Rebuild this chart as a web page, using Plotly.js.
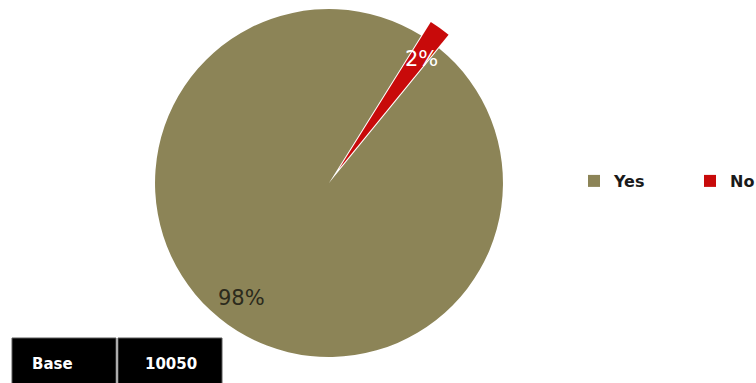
<!DOCTYPE html>
<html>
<head>
<meta charset="utf-8">
<script src="https://cdn.plot.ly/plotly-3.0.1.min.js"></script>
<style>
  html, body { margin: 0; padding: 0; overflow: hidden; background: #fff; }
  #chart { position: absolute; left: 0; top: -20px; width: 756px; height: 403px; }
</style>
</head>
<body>
<div id="chart"></div>
<script>
// ---- data ----
const labels = ['Yes', 'No'];
const values = [98, 2];
const sliceColors = ['#8c8457', '#c80a0a'];
const baseLabel = 'Base';
const baseValue = 10050;

// ---- layout helpers (pixel -> paper) ----
const W = 756, H = 403, T = 20; // T = hidden top strip
const px = x => x / W;
const py = y => 1 - (y + T) / H;

const total = values.reduce((a, b) => a + b, 0);
const pct = values.map(v => Math.round(v / total * 100) + '%');

const trace = {
  type: 'pie',
  labels: labels,
  values: values,
  sort: false,
  direction: 'clockwise',
  rotation: 39.2,
  pull: [0, 0.095],
  marker: { colors: sliceColors, line: { width: 0 } },
  textinfo: 'none',
  hoverinfo: 'label+percent',
  domain: { x: [px(138.5), px(519.5)], y: [py(373.5), py(-7.5)] }
};

const txt = (t, x, y, size, color, weight) => ({
  text: t, xref: 'paper', yref: 'paper', x: px(x), y: py(y),
  xanchor: 'center', yanchor: 'middle', showarrow: false,
  font: { family: 'DejaVu Sans', size: size, color: color, weight: weight || 'normal' }
});

const layout = {
  width: W, height: H,
  margin: { l: 0, r: 0, t: 0, b: 0, autoexpand: false },
  paper_bgcolor: '#ffffff',
  showlegend: true,
  legend: {
    orientation: 'h',
    x: px(574), xanchor: 'left',
    y: py(181), yanchor: 'middle',
    entrywidth: 71,
    font: { family: 'DejaVu Sans', size: 16, color: '#1a1a1a', weight: 'bold' },
    bgcolor: 'rgba(0,0,0,0)'
  },
  shapes: [
    { type: 'rect', xref: 'paper', yref: 'paper', x0: px(12), x1: px(116), y0: py(384), y1: py(338),
      fillcolor: '#000000', line: { width: 1, color: '#5a5a5a' } },
    { type: 'rect', xref: 'paper', yref: 'paper', x0: px(118), x1: px(222), y0: py(384), y1: py(338),
      fillcolor: '#000000', line: { width: 1, color: '#5a5a5a' } }
  ],
  annotations: [
    txt(pct[1], 421, 59, 21, '#ffffff'),
    txt(pct[0], 241, 298, 21, '#2b2a1c'),
    txt(baseLabel, 52, 364, 15, '#ffffff', 'bold'),
    txt(String(baseValue), 171, 364, 15, '#ffffff', 'bold')
  ]
};

Plotly.newPlot('chart', [trace], layout, { displayModeBar: false, staticPlot: true });
</script>
</body>
</html>
